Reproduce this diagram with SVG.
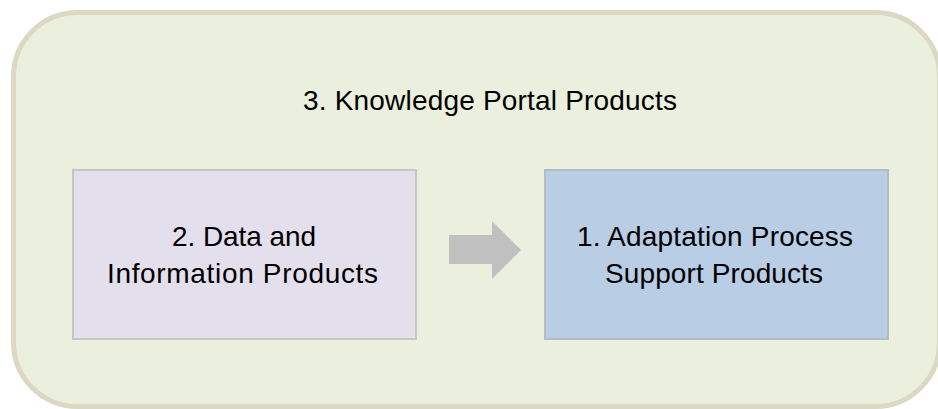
<svg xmlns="http://www.w3.org/2000/svg" width="938" height="409" viewBox="0 0 938 409">
<style>
.t{font-family:"Liberation Sans",Arial,sans-serif;font-size:28px;fill:#000}
</style>
<rect width="938" height="409" fill="#ffffff"/>
<g id="portal">
<rect x="13.5" y="12.5" width="926" height="394" rx="64" ry="64" fill="#ebefde" stroke="#dcd8c3" stroke-width="5"/>
<text class="t" x="303" y="110" textLength="374">3. Knowledge Portal Products</text>
</g>
<g id="data">
<rect x="73" y="170" width="343" height="169" fill="#e4dfec" stroke="#c6c6c6" stroke-width="2"/>
<text class="t" x="172" y="246" textLength="144">2. Data and</text>
<text class="t" x="107" y="283" textLength="271">Information Products</text>
</g>
<g id="adaptation">
<rect x="545" y="170" width="343" height="169" fill="#b9cde5" stroke="#b4bcc6" stroke-width="2"/>
<text class="t" x="577" y="246" textLength="276">1. Adaptation Process</text>
<text class="t" x="605" y="283" textLength="218">Support Products</text>
</g>
<g id="connectors">
<polygon points="449,235 492,235 492,221 521,250 492,279 492,264 449,264" fill="#c0c0c0"/>
</g>
</svg>
